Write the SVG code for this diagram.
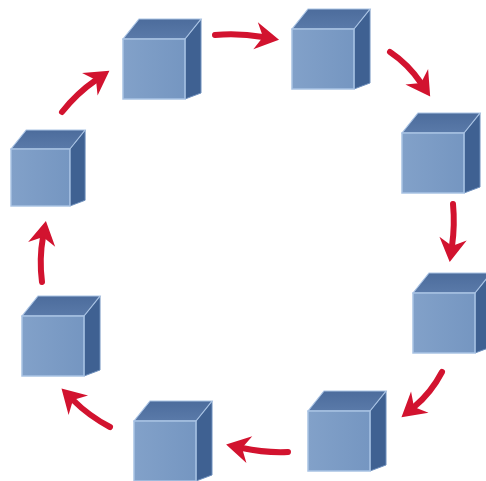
<svg xmlns="http://www.w3.org/2000/svg" xmlns:xlink="http://www.w3.org/1999/xlink" width="486" height="481" viewBox="0 0 486 481">
<style>
.front{fill:url(#gf);stroke:#a9c3e4;stroke-width:1.5}
.top{fill:url(#gt);stroke:#a9c3e4;stroke-width:1.2}
.side{fill:#3f6192;stroke:#6f90bd;stroke-width:1}
.arrow{fill:none;stroke:#d2132f;stroke-width:6;stroke-linecap:round;marker-end:url(#ah)}
</style>
<defs>
<linearGradient id="gf" x1="0" y1="0" x2="1" y2="0">
<stop offset="0" stop-color="#82a1c9"/>
<stop offset="1" stop-color="#7596c1"/>
</linearGradient>
<linearGradient id="gt" x1="0" y1="0" x2="0" y2="1">
<stop offset="0" stop-color="#4c6c9c"/>
<stop offset="1" stop-color="#5a7aa9"/>
</linearGradient>
<marker id="ah" markerUnits="userSpaceOnUse" markerWidth="30" markerHeight="30" viewBox="0 -12 20 24" refX="6" refY="0" orient="auto">
<path d="M0,-11 L19,0 L0,11 L6,0 Z" fill="#d2132f"/>
</marker>
<g id="cube">
<polygon class="side" points="62,0 78,-20 78,54 62,60"/>
<polygon class="top" points="0,0 16,-20 78,-20 62,0"/>
<rect class="front" x="0" y="0" width="62" height="60"/>
</g>
</defs>
<rect width="486" height="481" fill="#ffffff"/>
<g id="connectors">
<path class="arrow" d="M62,112 Q77,93 96,80"/>
<path class="arrow" d="M215,35 Q239,33 263,37"/>
<path class="arrow" d="M390,52 Q408,64 421,83"/>
<path class="arrow" d="M453,204 Q455,225 452,246"/>
<path class="arrow" d="M442,372 Q431,393 414,407"/>
<path class="arrow" d="M288,452 Q265,453 242,448"/>
<path class="arrow" d="M110,427 Q89,416 73,400"/>
<path class="arrow" d="M42,282 Q39,259 43,237"/>
</g>
<g id="node1"><use xlink:href="#cube" transform="translate(123,39)"/></g>
<g id="node2"><use xlink:href="#cube" transform="translate(292,29)"/></g>
<g id="node3"><use xlink:href="#cube" transform="translate(402,133)"/></g>
<g id="node4"><use xlink:href="#cube" transform="translate(413,293)"/></g>
<g id="node5"><use xlink:href="#cube" transform="translate(308,411)"/></g>
<g id="node6"><use xlink:href="#cube" transform="translate(134,421)"/></g>
<g id="node7"><use xlink:href="#cube" transform="translate(22,316)"/></g>
<g id="node8"><use xlink:href="#cube" transform="translate(11,149) scale(0.95)"/></g>
</svg>
